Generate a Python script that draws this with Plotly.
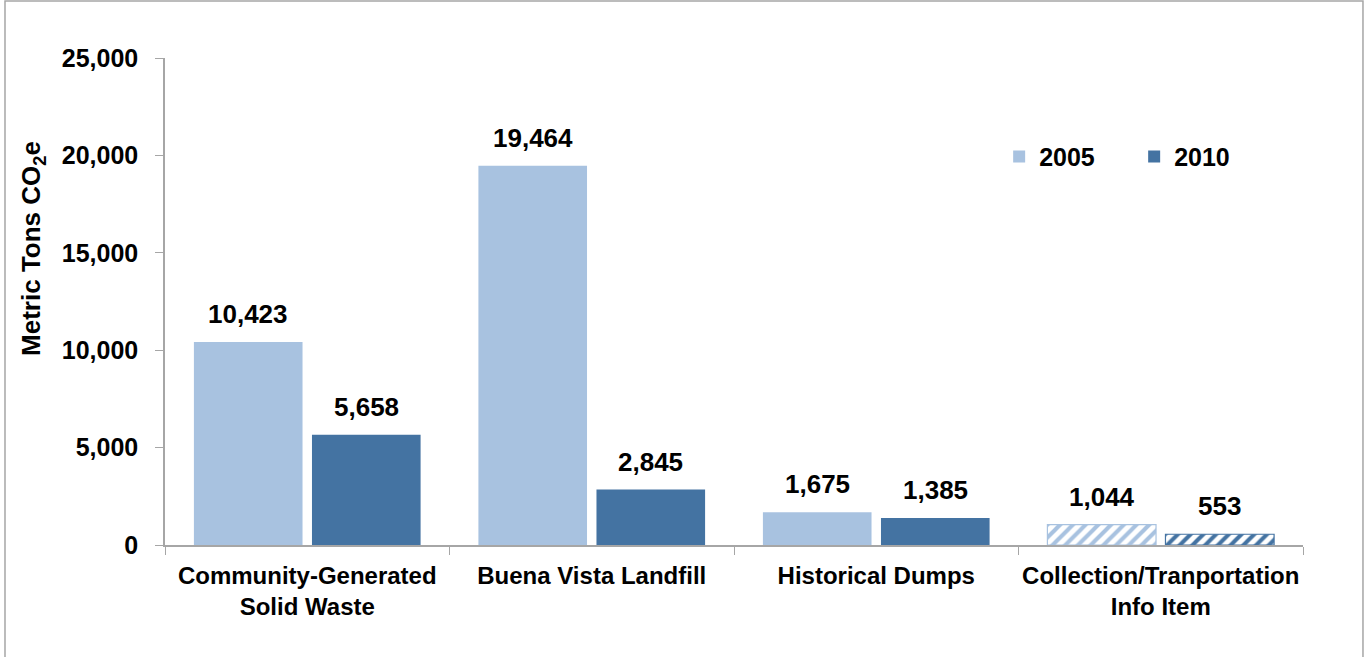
import plotly.graph_objects as go

categories = [
    "Community-Generated<br>Solid Waste",
    "Buena Vista Landfill",
    "Historical Dumps",
    "Collection/Tranportation<br>Info Item",
]
values_2005 = [10423, 19464, 1675, 1044]
values_2010 = [5658, 2845, 1385, 553]
hatch = ["", "", "", "/"]

light = "#A8C2E0"
dark = "#4473A2"
axis_grey = "#A6A6A6"
FONT = "Liberation Sans, Arial, sans-serif"

bargap = 0.17
groupgap = 0.08
offset = (1 - bargap) / 4

fig = go.Figure()
for name, vals, col in [("2005", values_2005, light), ("2010", values_2010, dark)]:
    fig.add_trace(go.Bar(
        name=name, x=categories, y=vals,
        marker=dict(
            color=col,
            line=dict(color=col, width=[0 if h == "" else 1.2 for h in hatch]),
            pattern=dict(shape=hatch, fillmode="replace", bgcolor="white",
                         fgcolor=col, size=9, solidity=0.45),
        ),
    ))

# value labels above each bar
for i in range(len(categories)):
    for vals, dx in [(values_2005, -offset), (values_2010, offset)]:
        fig.add_annotation(
            x=i + dx, y=vals[i], xref="x", yref="y",
            text=f"{vals[i]:,}", showarrow=False,
            yanchor="middle", yshift=28,
            font=dict(family=FONT, size=26, color="black", weight="bold"),
        )

# y-axis title, set a little above the axis midpoint
fig.add_annotation(
    x=-0.116, y=0.61, xref="paper", yref="paper",
    text="Metric Tons CO<sub>2</sub>e", textangle=-90, showarrow=False,
    xanchor="center", yanchor="middle",
    font=dict(family=FONT, size=26, color="black", weight="bold"),
)

# outer frame
fig.add_shape(type="rect", xref="paper", yref="paper",
              x0=-0.1406, x1=1.0527, y0=-0.25, y1=1.117,
              line=dict(color=axis_grey, width=1.5), fillcolor="rgba(0,0,0,0)")

fig.update_layout(
    width=1368, height=657,
    margin=dict(l=165, r=65, t=58, b=112, autoexpand=False),
    paper_bgcolor="white", plot_bgcolor="white",
    barmode="group", bargap=bargap, bargroupgap=groupgap,
    font=dict(family=FONT, size=24, color="black", weight="bold"),
    showlegend=True,
    legend=dict(orientation="h", x=0.733, y=0.797, xanchor="left", yanchor="middle",
                font=dict(family=FONT, size=25, color="black", weight="bold"),
                itemwidth=30, entrywidth=90, bgcolor="rgba(0,0,0,0)"),
)
fig.update_xaxes(
    showline=True, linecolor=axis_grey, linewidth=1.5,
    ticks="outside", tickson="boundaries", ticklen=8, tickcolor=axis_grey,
    ticklabelstandoff=8, tickangle=0, automargin=False,
    tickfont=dict(family=FONT, size=24, color="black", weight="bold"),
    showgrid=False, zeroline=False,
)
fig.update_yaxes(
    range=[0, 25000], dtick=5000, tickformat=",",
    showline=True, linecolor=axis_grey, linewidth=1.5, automargin=False,
    ticks="outside", ticklen=8, tickcolor=axis_grey, ticklabelstandoff=12,
    tickfont=dict(family=FONT, size=25, color="black", weight="bold"),
    showgrid=False, zeroline=False,
)

fig.write_html("out.html")
